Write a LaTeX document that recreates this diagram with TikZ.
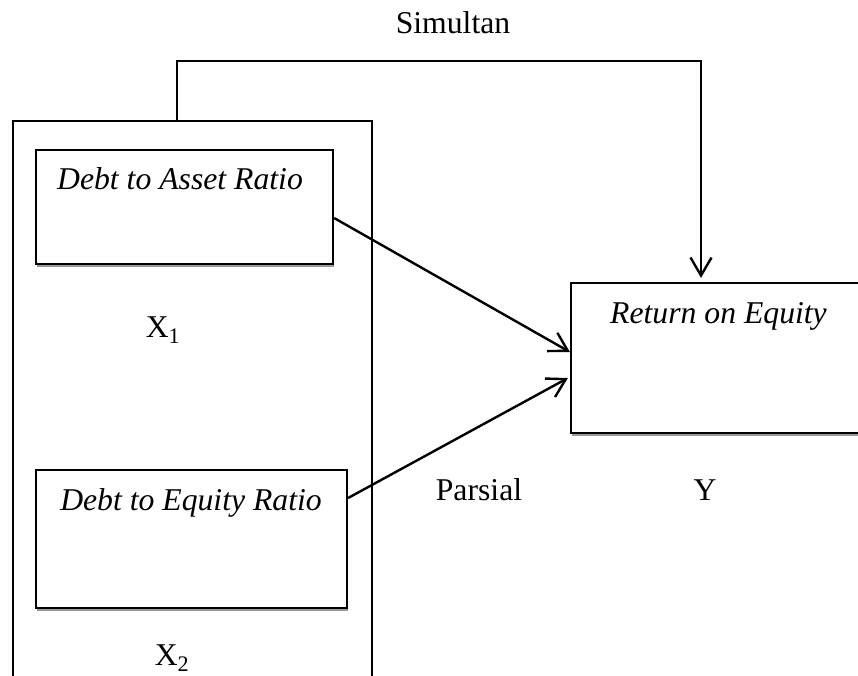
\documentclass[tikz,border=0pt]{standalone}
\usepackage{fontspec}
\setmainfont{Liberation Serif}
\usepackage{tikz}
\usetikzlibrary{
    arrows.meta,
    calc,
    shadows
}

\tikzset{
    varbox/.style={draw, line width=2.2pt, fill=white, inner sep=0pt,
        drop shadow={shadow xshift=1pt, shadow yshift=-3pt, fill=gray!80, opacity=1}},
    lbl/.style={anchor=base, inner sep=0pt, font=\fontsize{31.7}{38}\selectfont},
    arr/.style={line width=2.4pt, -{Straight Barb[length=18pt,width=21pt,line width=2.4pt]}}
}

\begin{document}
\begin{tikzpicture}[x=1pt,y=-1pt]

\useasboundingbox (0,0) rectangle (858,675);

% Group of independent variables
\node[draw, line width=2.2pt, inner sep=0pt, minimum width=359pt, minimum height=579pt] (grp) at (192.5,410.5) {};

% Variable boxes
\node[varbox, minimum width=297pt, minimum height=114pt] (dar) at (184.5,207) {};
\node[varbox, minimum width=311pt, minimum height=138pt] (der) at (191.5,539) {};
\node[varbox, minimum width=309pt, minimum height=150pt] (roe) at (725.5,358) {};

\node[lbl] (darlbl) at (180,189) {\textit{Debt to Asset Ratio}};
\node[lbl] (derlbl) at (191,510) {\textit{Debt to Equity Ratio}};
\node[lbl] (roelbl) at (718.5,323) {\textit{Return on Equity}};

% Labels
\node[lbl] (x1) at (163,337) {X\textsubscript{1}};
\node[lbl] (x2) at (172,665) {X\textsubscript{2}};
\node[lbl] (y) at (705,500) {Y};
\node[lbl] (parsial) at (479,500) {Parsial};
\node[lbl] (simultan) at (453,33) {Simultan};

% Partial effects
\draw[arr] ($(dar.east)+(0,11)$) -- ($(roe.west)+(0,-6)$);
\draw[arr] ($(der.east)+(0,-41)$) -- ($(roe.west)+(-2,20)$);

% Simultaneous effect
\draw[arr] ($(grp.north)+(-15.5,0)$) -- ++(0,-59) -| ($(roe.north)+(-24.5,-4)$);

\end{tikzpicture}
\end{document}
